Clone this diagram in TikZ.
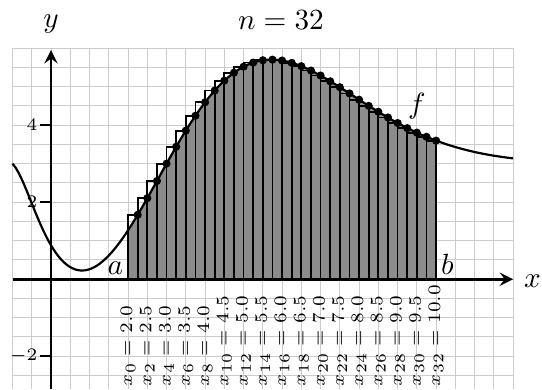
\documentclass[tikz,border=0pt]{standalone}
\usepackage{amsmath,amssymb}
\usepackage{xcolor}
\usepackage{tikz}

\begin{document}
\begin{tikzpicture}[x=0.463cm, y=0.463cm, >=stealth,
    declare function={f(\t)=3+(\t+1)*(\t-3)*exp(-0.258-0.0402*(\t+0.694)*(\t+0.694)-0.07*exp(-2.7*min(\t,3)));},
    ptlabel/.style={rotate=90, anchor=west, inner sep=0.5pt, font=\fontsize{6.3}{7}\selectfont},
    ticklabel/.style={left, inner sep=0.5pt, font=\fontsize{6.3}{7}\selectfont},
    sample/.style={fill=black}]
    \useasboundingbox (-1.325,-2.857) rectangle (12.75,7.25);
    \draw[gray!40, line width=0.35pt] (-1,-2.857) grid[step=0.5] (12,6);
    \fill[black!45] (2,0) -- plot[domain=2:10, samples=120] (\x,{f(\x)}) -- (10,0) -- cycle;
    \foreach \i in {1,...,32} {
        \pgfmathsetmacro{\xl}{2+0.25*(\i-1)}
        \pgfmathsetmacro{\xr}{2+0.25*\i}
        \draw[line width=0.6pt] (\xl,0) rectangle (\xr,{f(\xr)});
    }
    \draw[line width=0.75pt] plot[domain=-1:12, samples=160, smooth] (\x,{f(\x)});
    \foreach \i in {1,...,32}
        \fill[sample] ({2+0.25*\i},{f(2+0.25*\i)}) circle[radius=1.4pt];
    \draw[->, line width=1pt] (-1,0) -- (12,0);
    \draw[->, line width=1pt] (0,-2.857) -- (0,5.95);
    \foreach \y in {-2,2,4} {
        \draw[line width=0.5pt] (-0.28,\y) -- (0,\y);
        \node[ticklabel] at (-0.3,\y) {$\y$};
    }
    \node at (0,6.62) {$y$};
    \node at (12.5,-0.05) {$x$};
    \node at (5.97,6.73) {$n = 32$};
    \node[above left, inner sep=1.5pt] at (2,0) {$a$};
    \node[above right, inner sep=1.5pt] at (10,0) {$b$};
    \node at (9.5,4.48) {$f$};
    \foreach \i in {0,2,...,32} {
        \pgfmathsetmacro{\xv}{2+0.25*\i}
        \node[ptlabel] at (\xv,-2.83) {$x_{\i} = \pgfmathprintnumber[fixed, precision=1, fixed zerofill]{\xv}$};
    }
\end{tikzpicture}
\end{document}
